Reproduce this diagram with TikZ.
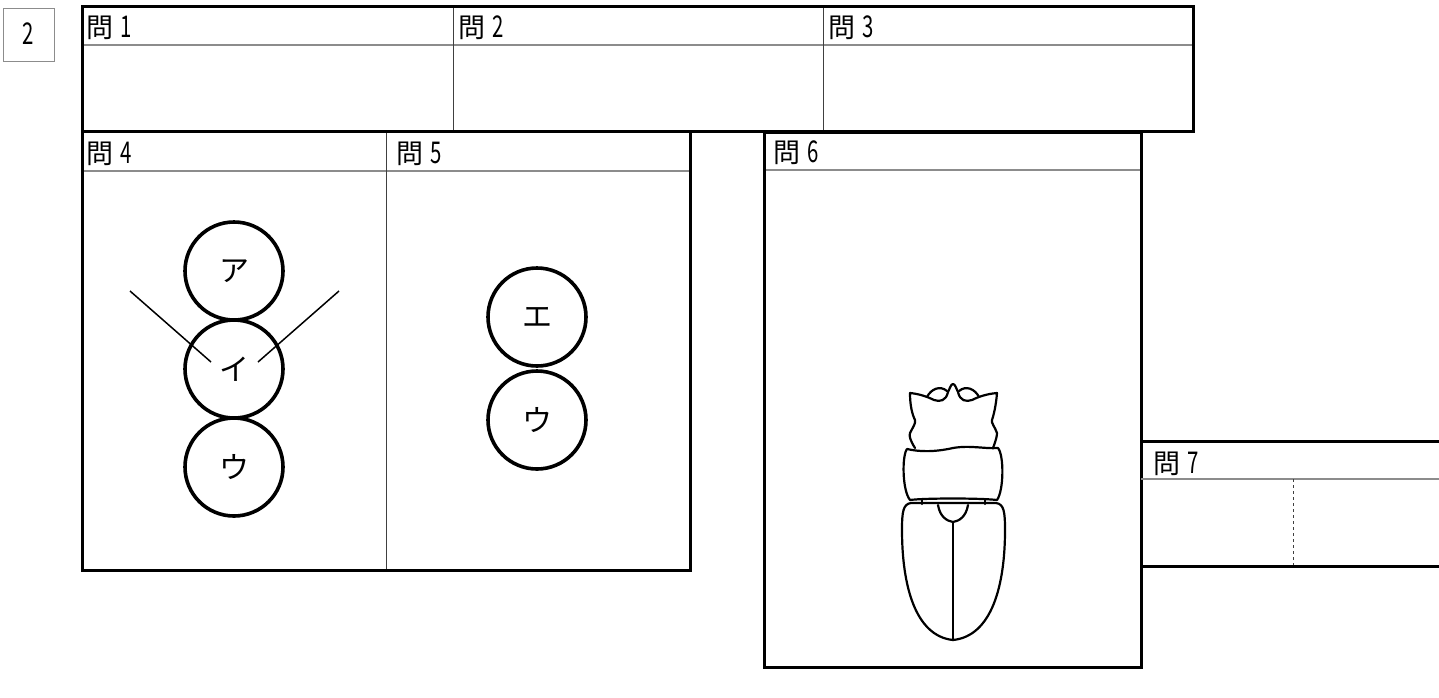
\documentclass[tikz,border=0pt]{standalone}
\usepackage{fontspec}
\setmainfont{Noto Sans CJK JP}
% tall narrow digits for the question numbers
\newcommand\qnum[1]{\scalebox{0.68}[1]{\fontsize{30}{30}\selectfont #1}}
\newcommand\qlabel[1]{問\hspace{7pt}\qnum{#1}}
\tikzset{
  frame/.style={line width=3pt},
  divider/.style={line width=1pt, black!75},
  headline/.style={line width=1.5pt, black!45},
  title/.style={anchor=west, inner sep=0pt, font=\fontsize{27}{27}\selectfont},
  ball/.style={circle, draw, line width=3.6pt, minimum size=98pt, inner sep=0pt,
    font=\fontsize{30}{30}\selectfont},
  bug/.style={line width=2.2pt, line join=round, line cap=round},
}
\begin{document}
\begin{tikzpicture}[x=1pt, y=-1pt]
  \useasboundingbox (0,0) rectangle (1439,697);
  % number tag
  \draw[black!45, line width=1pt] (3,8) rectangle (54,61);
  \node[inner sep=0pt] (num) at (28.5,34) {\qnum{2}};
  % upper row
  \draw[headline] (82,45) -- (1193,45);
  \draw[divider] (453,6) -- (453,131);
  \draw[divider] (823,6) -- (823,131);
  \draw[frame] (82,6) rectangle (1193,131);
  \node[title] (q1) at (86,28) {\qlabel{1}};
  \node[title] (q2) at (458,28) {\qlabel{2}};
  \node[title] (q3) at (828,28) {\qlabel{3}};
  % q4 and q5
  \draw[headline] (82,171) -- (690,171);
  \draw[divider] (386,131) -- (386,570);
  \draw[frame] (82,131) rectangle (690,570);
  \node[title] (q4) at (86,154) {\qlabel{4}};
  \node[title] (q5) at (396,154) {\qlabel{5}};
  \node[ball] (a) at (234,271) {ア};
  \node[ball] (i) at (234,369) {イ};
  \node[ball] (u) at (234,467) {ウ};
  \coordinate (l1) at (130,291);
  \coordinate (l2) at (211,362);
  \coordinate (r1) at (339,291);
  \coordinate (r2) at (258,362);
  \draw[line width=1.5pt] (l1) -- (l2);
  \draw[line width=1.5pt] (r1) -- (r2);
  \node[ball] (e) at (537,317) {エ};
  \node[ball] (u2) at (537,420) {ウ};
  % q6
  \draw[headline] (764,170) -- (1141,170);
  \draw[frame] (764,132) rectangle (1141,667);
  \node[title] (q6) at (773,153) {\qlabel{6}};
  % beetle: head
  \draw[bug] (915,448) .. controls (910,440) and (909,436) .. (910,433)
    .. controls (913,427) and (916,423) .. (915,420)
    .. controls (912,414) and (910,405) .. (910,393)
    .. controls (920,394) and (928,397) .. (934,400)
    .. controls (940,402) and (946,401) .. (948,392)
    .. controls (950,388) and (951,384) .. (953,384)
    .. controls (955,384) and (956,388) .. (958,392)
    .. controls (960,401) and (966,402) .. (972,400)
    .. controls (978,397) and (986,394) .. (997,393)
    .. controls (996,405) and (994,414) .. (992,420)
    .. controls (991,423) and (995,427) .. (997,433)
    .. controls (997,436) and (996,440) .. (993,448);
  \draw[bug] (927,397) .. controls (931,389) and (940,385) .. (947,391);
  \draw[bug] (979,397) .. controls (975,389) and (966,385) .. (959,391);
  % pronotum
  \draw[bug] (907,449) .. controls (920,452) and (935,452) .. (953,448)
    .. controls (970,445) and (985,449) .. (998,448)
    .. controls (1004,455) and (1004,490) .. (997,500)
    .. controls (980,498) and (925,498) .. (910,500)
    .. controls (902,490) and (902,455) .. (907,449) -- cycle;
  \draw[bug] (922,499) -- (922,504);
  \draw[bug] (985,499) -- (985,504);
  % elytra
  \draw[bug] (953,640) .. controls (915,636) and (902,585) .. (902,530)
    .. controls (902,512) and (903,504) .. (911,503) -- (996,503)
    .. controls (1004,504) and (1005,512) .. (1005,530)
    .. controls (1005,585) and (992,636) .. (953,640);
  \draw[bug] (938,505) .. controls (940,517) and (947,521) .. (953,522)
    .. controls (959,521) and (966,517) .. (968,505);
  \draw[bug] (953,522) -- (953,640);
  % q7
  \draw[headline] (1141,479) -- (1439,479);
  \draw[divider, dashed] (1293,479) -- (1293,566);
  \draw[frame] (1141,441) -- (1445,441);
  \draw[frame] (1141,566) -- (1445,566);
  \node[title] (q7) at (1153,464) {\qlabel{7}};
\end{tikzpicture}
\end{document}
